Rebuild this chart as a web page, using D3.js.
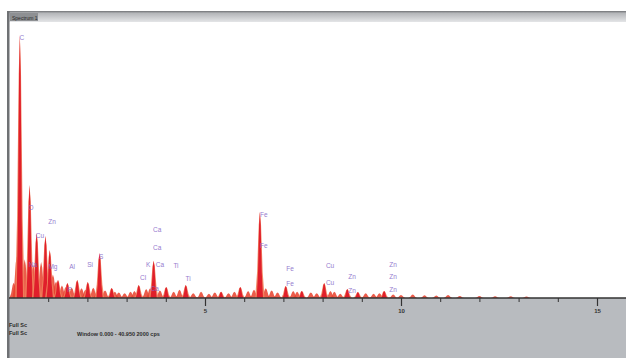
<!DOCTYPE html>
<html>
<head>
<meta charset="utf-8">
<script src="https://cdn.jsdelivr.net/npm/d3@7"></script>
<style>
  body { margin: 0; background: #fff; }
  svg { display: block; font-family: "Liberation Sans", Arial, sans-serif; }
</style>
</head>
<body>
<div id="chart-area"></div>
<script>
// EDS spectrum, energy in keV, intensity in counts
const peakEnergy = [0.277, 0.525, 0.705, 0.93, 1.04, 1.25, 1.49, 1.74, 2.01, 2.31, 2.62, 3.31, 3.69, 4.01, 4.51, 5.41, 5.90, 6.40, 7.06, 7.47, 8.04, 8.63, 8.90, 9.57]
const peakCounts = [1906, 819, 471, 449, 348, 130, 109, 130, 116, 326, 72, 94, 270, 80, 94, 45, 80, 623, 87, 51, 109, 65, 43, 51]

// low background bumps along the baseline
const noiseEnergy = [0.12, 0.20, 0.40, 0.62, 0.82, 1.12, 1.20, 1.35, 1.45, 1.60, 1.85, 1.95, 2.15, 2.25, 2.45, 2.70, 2.80, 2.95, 3.10, 3.20, 3.50, 3.60, 3.85, 4.20, 4.35, 4.70, 4.90, 5.10, 5.25, 5.60, 5.75, 6.10, 6.25, 6.55, 6.70, 6.85, 7.25, 7.35, 7.70, 7.85, 8.20, 8.30, 8.45, 9.10, 9.30, 9.45, 9.80, 10.0, 10.3, 10.6, 10.9, 11.2, 11.5, 12.0, 12.4, 12.8, 13.2]
const noiseCounts = [110, 300, 280, 240, 260, 170, 120, 90, 80, 75, 70, 60, 75, 50, 55, 45, 40, 35, 45, 50, 65, 70, 55, 45, 60, 35, 45, 30, 40, 35, 45, 50, 60, 70, 55, 40, 50, 45, 40, 35, 50, 45, 30, 35, 30, 35, 25, 22, 25, 20, 18, 22, 15, 14, 12, 12, 10]

// element markers (label, energy, count level)
const markerText = ["C", "O", "Zn", "Cu", "Na", "Mg", "Al", "Si", "S", "P", "Ca", "Ca", "K", "Ca", "Ti", "Cl", "Ti", "Ca", "Fe", "Fe", "Fe", "Fe", "Cu", "Cu", "Zn", "Zn", "Zn", "Zn", "Zn"]
const markerEnergy = [0.33, 0.56, 1.10, 0.79, 0.61, 1.12, 1.61, 2.07, 2.35, 1.55, 3.78, 3.78, 3.55, 3.85, 4.26, 3.42, 4.57, 3.72, 6.50, 6.50, 7.17, 7.17, 8.19, 8.19, 8.75, 8.75, 9.80, 9.80, 9.80]
const markerCounts = [1884, 652, 551, 449, 239, 225, 225, 239, 297, 58, 493, 362, 239, 239, 232, 145, 138, 65, 601, 377, 210, 101, 232, 109, 152, 51, 239, 152, 58]

const tickMajor = [5, 10, 15]
const tickMinor = [1, 2, 3, 4, 6, 7, 8, 9, 11, 12, 13, 14]

const canvas = { width: 626, height: 358 }
const frame = { left: 9, top: 22, axis: 298 }

const svg = d3.select('#chart-area')
	.append('svg')
		.attr('width', canvas.width)
		.attr('height', canvas.height)

const x = d3.scaleLinear()
	.domain([0, 5])
	.range([frame.left, 205])
const y = d3.scaleLinear()
	.domain([0, 2000])
	.range([frame.axis, frame.axis - 276])

// title bar
const barGrad = svg.append('defs').append('linearGradient')
	.attr('id', 'bar').attr('x1', 0).attr('x2', 0).attr('y1', 0).attr('y2', 1)
barGrad.append('stop').attr('offset', '0%').attr('stop-color', '#6f7174')
barGrad.append('stop').attr('offset', '20%').attr('stop-color', '#b4b6b9')
barGrad.append('stop').attr('offset', '100%').attr('stop-color', '#e4e5e7')
svg.append('rect')
	.attr('x', frame.left).attr('y', 11)
	.attr('width', canvas.width - frame.left).attr('height', 11)
	.attr('fill', 'url(#bar)')
svg.append('rect')
	.attr('x', frame.left + 1).attr('y', 13)
	.attr('width', 28).attr('height', 8)
	.attr('fill', '#8e9093')
svg.append('text')
	.attr('x', frame.left + 3).attr('y', 19.5)
	.attr('font-size', 5)
	.attr('fill', '#2a2a2a')
	.text('Spectrum 1')

// grey panel below the axis
svg.append('rect')
	.attr('x', frame.left).attr('y', frame.axis)
	.attr('width', canvas.width - frame.left).attr('height', canvas.height - frame.axis)
	.attr('fill', '#b8bbbf')

// left border
svg.append('rect')
	.attr('x', 7).attr('y', 11)
	.attr('width', 2.5).attr('height', canvas.height - 11)
	.attr('fill', '#6f7174')

// spectrum marks
const peakShape = [-1, -0.6, -0.25, 0, 0.25, 0.6, 1]
const peakLevel = [0, 0.3, 0.85, 1, 0.85, 0.3, 0]
function spike(e, c, halfWidth) {
	return d3.area()
		.x(d => x(e + d * halfWidth))
		.y0(y(0))
		.y1((d, i) => y(c * peakLevel[i]))
		.curve(d3.curveLinear)(peakShape)
}

const spec = svg.append('g')
noiseEnergy.forEach((e, i) => {
	spec.append('path')
		.attr('d', spike(e, noiseCounts[i], 0.11))
		.attr('fill', '#e8402c')
		.attr('opacity', 0.85)
})
peakEnergy.forEach((e, i) => {
	spec.append('path')
		.attr('d', spike(e, peakCounts[i], 0.12))
		.attr('fill', '#f0805a')
		.attr('opacity', 0.9)
	spec.append('path')
		.attr('d', spike(e, peakCounts[i], 0.08))
		.attr('fill', '#e01f2b')
})

// element markers
const marks = svg.append('g')
markerText.forEach((t, i) => {
	marks.append('text')
		.attr('x', x(markerEnergy[i]))
		.attr('y', y(markerCounts[i]))
		.attr('text-anchor', 'middle')
		.attr('dy', '0.35em')
		.attr('font-size', 6.5)
		.attr('fill', '#8466c8')
		.attr('opacity', 0.85)
		.text(t)
})

// axis
svg.append('line')
	.attr('x1', frame.left).attr('x2', canvas.width)
	.attr('y1', frame.axis).attr('y2', frame.axis)
	.attr('stroke', '#333').attr('stroke-width', 1.6)
const axis = svg.append('g')
	.attr('transform', `translate(0, ${frame.axis})`)
	.call(d3.axisBottom(x).tickValues(tickMajor).tickSize(8).tickPadding(3).tickFormat(d3.format('d')))
axis.select('.domain').remove()
axis.selectAll('line').attr('stroke', '#333').attr('stroke-width', 1.2)
axis.selectAll('text').attr('font-size', 6).attr('font-weight', 'bold').attr('fill', '#333')
const minor = svg.append('g')
	.attr('transform', `translate(0, ${frame.axis})`)
	.call(d3.axisBottom(x).tickValues(tickMinor).tickSize(4).tickFormat(''))
minor.select('.domain').remove()
minor.selectAll('line').attr('stroke', '#333').attr('stroke-width', 1)

// footer text
const foot = svg.append('g')
	.attr('font-size', 5.5)
	.attr('fill', '#2b2b2b')
	.attr('font-weight', 'bold')
foot.append('text').attr('x', 9).attr('y', 327).text('Full Sc')
foot.append('text').attr('x', 9).attr('y', 335).text('Full Sc')
foot.append('text').attr('x', 77).attr('y', 336).text('Window 0.000 - 40.950   2000 cps')
</script>
</body>
</html>
